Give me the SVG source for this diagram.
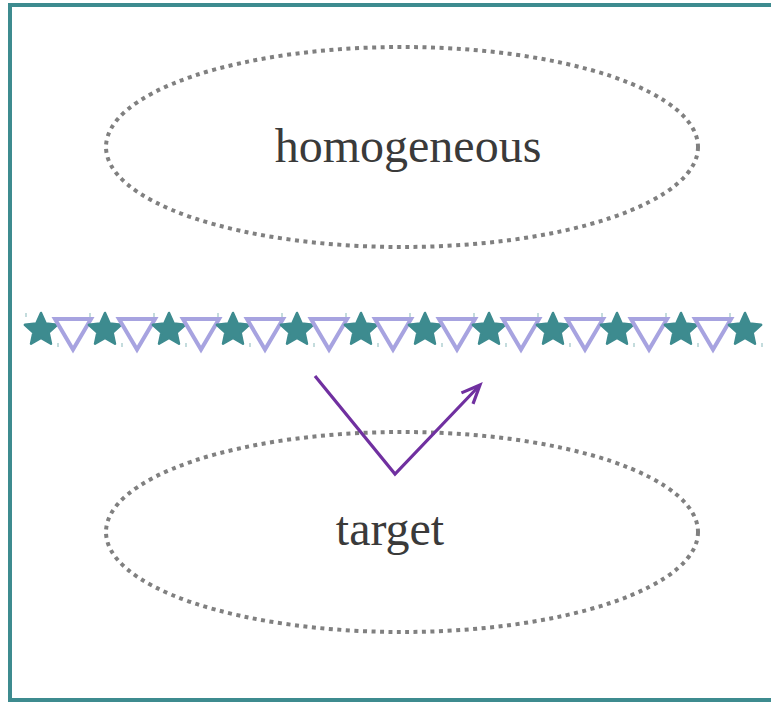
<svg xmlns="http://www.w3.org/2000/svg" xmlns:xlink="http://www.w3.org/1999/xlink" width="771" height="702" viewBox="0 0 771 702">
<style>
.lbl{font-family:"Liberation Serif","Times New Roman",serif;font-size:48px;fill:#3a3a3a;text-anchor:middle}
.ell{fill:none;stroke:#808080;stroke-width:4;stroke-dasharray:4 4.5}
.star{fill:#3d8b8f;stroke:#3d8b8f;stroke-width:2.5;stroke-linejoin:round}
.tri{fill:none;stroke:#a7a3e0;stroke-width:4;stroke-linejoin:miter}
.tick{stroke:#3d8b8f;stroke-width:1;opacity:0.6}
.conn{fill:none;stroke:#7030a0;stroke-width:3.2}
</style>
<defs>
<path id="star" class="star" d="M0,-17 L4.7,-6.5 L16.17,-5.25 L7.6,2.47 L9.99,13.75 L0,8 L-9.99,13.75 L-7.6,2.47 L-16.17,-5.25 L-4.7,-6.5 Z"/>
<path id="tri" class="tri" d="M-18,-12 L18,-12 L0,18.5 Z"/>
<g id="tile">
<line class="tick" x1="26" y1="313" x2="26" y2="317"/>
<line class="tick" x1="58" y1="343" x2="58" y2="347"/>
<use xlink:href="#star" href="#star" x="41" y="330"/>
<use xlink:href="#tri" href="#tri" x="73" y="331"/>
</g>
<marker id="arr" markerWidth="24" markerHeight="22" refX="20" refY="11" orient="auto" markerUnits="userSpaceOnUse" viewBox="0 0 24 22">
<path d="M1.5,3 L20,11 L1.5,19" fill="none" stroke="#7030a0" stroke-width="3.2"/>
</marker>
</defs>
<rect x="10" y="5" width="800" height="695" fill="#ffffff" stroke="#3d8b8f" stroke-width="4"/>
<g id="pattern-line">
<use xlink:href="#tile" href="#tile" x="0"/>
<use xlink:href="#tile" href="#tile" x="64"/>
<use xlink:href="#tile" href="#tile" x="128"/>
<use xlink:href="#tile" href="#tile" x="192"/>
<use xlink:href="#tile" href="#tile" x="256"/>
<use xlink:href="#tile" href="#tile" x="320"/>
<use xlink:href="#tile" href="#tile" x="384"/>
<use xlink:href="#tile" href="#tile" x="448"/>
<use xlink:href="#tile" href="#tile" x="512"/>
<use xlink:href="#tile" href="#tile" x="576"/>
<use xlink:href="#tile" href="#tile" x="640"/>
<line class="tick" x1="730" y1="313" x2="730" y2="317"/>
<line class="tick" x1="762" y1="343" x2="762" y2="347"/>
<use xlink:href="#star" href="#star" x="745" y="330"/>
</g>
<g id="homogeneous">
<ellipse class="ell" cx="402" cy="147" rx="296" ry="100"/>
<text class="lbl" x="408" y="162">homogeneous</text>
</g>
<g id="target">
<ellipse class="ell" cx="402" cy="532" rx="296" ry="100"/>
<text class="lbl" x="390" y="545">target</text>
</g>
<g id="connectors">
<polyline class="conn" points="315,376 395,474 480,385" marker-end="url(#arr)"/>
</g>
</svg>
